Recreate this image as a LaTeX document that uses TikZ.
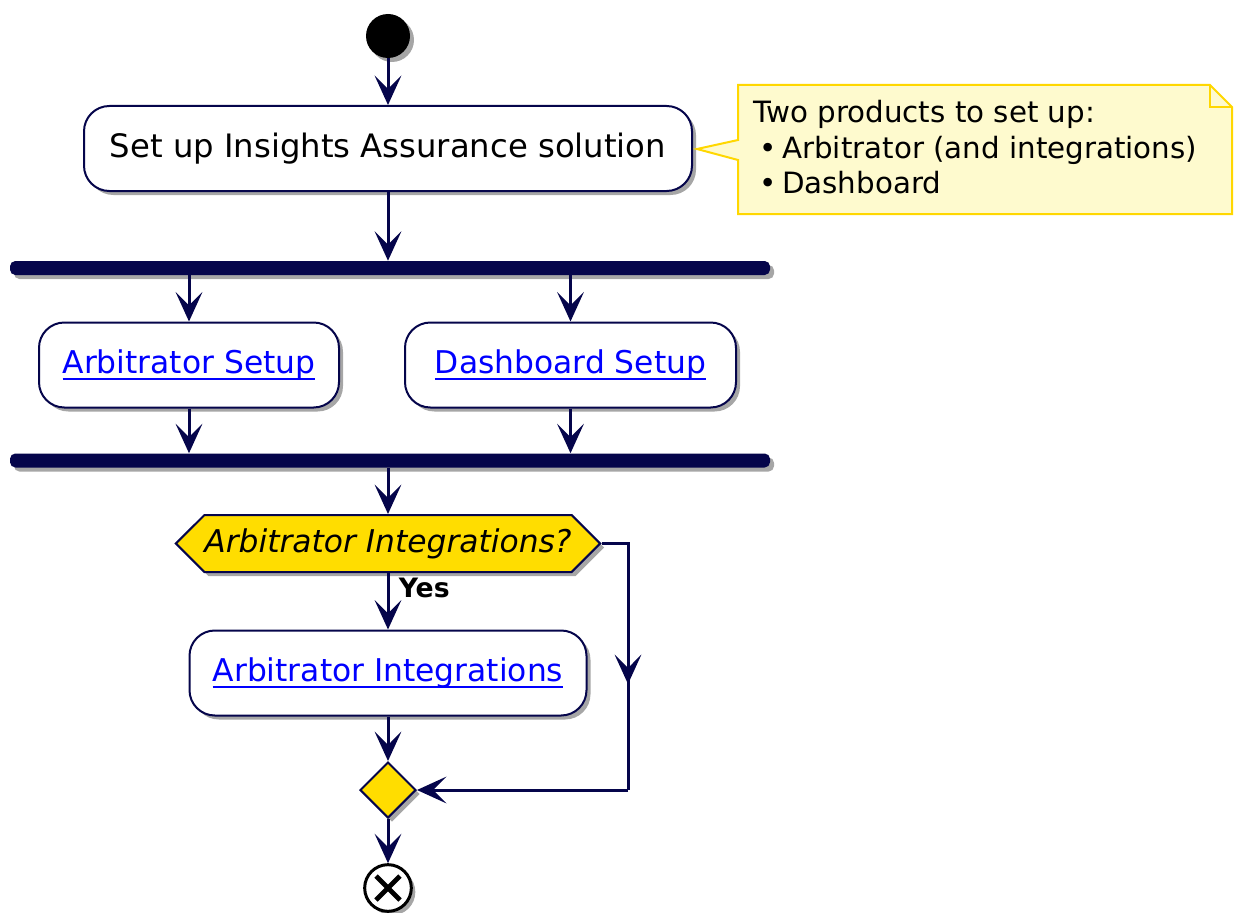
\documentclass[tikz,border=0pt]{standalone}
\usepackage{fontspec}
\setmainfont{DejaVu Sans}
\usetikzlibrary{shapes.geometric,shapes.symbols,arrows.meta,positioning,calc,shadows}
\definecolor{umlnavy}{RGB}{5,5,75}
\definecolor{umlgold}{RGB}{255,221,0}
\definecolor{notefill}{RGB}{254,250,206}
\definecolor{noteline}{RGB}{255,215,0}
\definecolor{linkblue}{RGB}{0,0,255}
\newcommand{\umllink}[1]{\textcolor{linkblue}{\setbox0\hbox{#1}\rlap{\rule[-4.5pt]{\wd0}{1.3pt}}\box0}}

\begin{document}
\begin{tikzpicture}[x=0.75pt, y=-0.75pt,
    shade/.style={drop shadow={shadow xshift=3pt, shadow yshift=-3pt, opacity=0.35, fill=black}},
    action/.style={rectangle, draw=umlnavy, line width=1.5pt, fill=white,
        rounded corners=19pt, minimum height=63.75pt, inner sep=0pt,
        font=\fontsize{23.5}{28}\selectfont, shade},
    bar/.style={rectangle, fill=umlnavy, minimum width=570pt, minimum height=10.5pt,
        rounded corners=4pt, inner sep=0pt, shade},
    flow/.style={-{Stealth[length=22pt, width=20pt, inset=10pt]}, line width=2.25pt, umlnavy},
    wire/.style={line width=2.25pt, umlnavy}
]
    \useasboundingbox (0,0) rectangle (1234,913);

    % start and first action
    \node[circle, fill=black, minimum size=33pt, inner sep=0pt, shade] (start) at (388,36) {};
    \node[action, minimum width=456pt, font=\fontsize{24.2}{28}\selectfont] (setup) at (388,148.5) {Set up Insights Assurance solution};

    % note
    \draw[noteline, line width=1.5pt, fill=notefill]
        (738,85) -- (1210,85) -- (1232,107) -- (1232,214) -- (738,214) -- (738,160)
        -- (697,149) -- (738,140) -- cycle;
    \draw[noteline, line width=1.5pt] (1210,85) -- (1210,107) -- (1232,107);
    \node[anchor=base west, align=left, inner sep=0pt, font=\fontsize{22}{27}\selectfont] (note) at (753,194)
        {Two products to set up:\\\hspace{5pt}\textbullet\,Arbitrator (and integrations)\\\hspace{5pt}\textbullet\,Dashboard};

    % fork
    \node[bar] (fork) at (390,268) {};
    \node[action, minimum width=225pt] (arbsetup) at (189,365) {\umllink{Arbitrator Setup}};
    \node[action, minimum width=248.25pt] (dashsetup) at (570.5,365) {\umllink{Dashboard Setup}};
    \node[bar] (join) at (390,460.5) {};

    % decision
    \node[signal, signal to=west and east, signal pointer angle=90, draw=umlnavy, line width=1.5pt,
        fill=umlgold, minimum width=318pt, minimum height=42.75pt, inner sep=0pt,
        font=\fontsize{23.5}{28}\selectfont\itshape, shade] (check) at (388,543.5) {Arbitrator Integrations?};
    \node[action, minimum width=297.75pt] (arbint) at (388,673) {\umllink{Arbitrator Integrations}};
    \node[diamond, draw=umlnavy, line width=1.5pt, fill=umlgold, minimum size=42pt, inner sep=0pt, shade] (merge) at (388,790) {};
    \node[circle, draw=black, line width=2.25pt, fill=white, minimum size=35pt, inner sep=0pt, shade] (stop) at (388,888) {};
    \draw[black, line width=3.5pt] ($(stop)+(-12,-12)$) -- ($(stop)+(12,12)$)
        ($(stop)+(-12,12)$) -- ($(stop)+(12,-12)$);

    \coordinate (skiptop) at (628,543.5);
    \coordinate (skipbot) at (628,790);

    % connectors
    \draw[flow] (start) -- (setup);
    \draw[flow] (setup.south) -- (setup.south |- fork.north);
    \draw[flow] (arbsetup.north |- fork.south) -- (arbsetup.north);
    \draw[flow] (dashsetup.north |- fork.south) -- (dashsetup.north);
    \draw[flow] (arbsetup.south) -- (arbsetup.south |- join.north);
    \draw[flow] (dashsetup.south) -- (dashsetup.south |- join.north);
    \draw[flow] (check.north |- join.south) -- (check.north);
    \draw[flow] (check.south) -- node[pos=0.0, anchor=north west, inner xsep=7pt, inner ysep=3pt, font=\fontsize{20}{24}\selectfont\bfseries, black] {Yes} (arbint.north);
    \draw[wire] (check.east) -- (skiptop) -- (skipbot);
    \draw[flow] (skiptop) -- ($(skiptop)!0.57!(skipbot)$);
    \draw[flow] (skipbot) -- (merge.east);
    \draw[flow] (arbint.south) -- (merge.north);
    \draw[flow] (merge.south) -- (stop.north);
\end{tikzpicture}
\end{document}
